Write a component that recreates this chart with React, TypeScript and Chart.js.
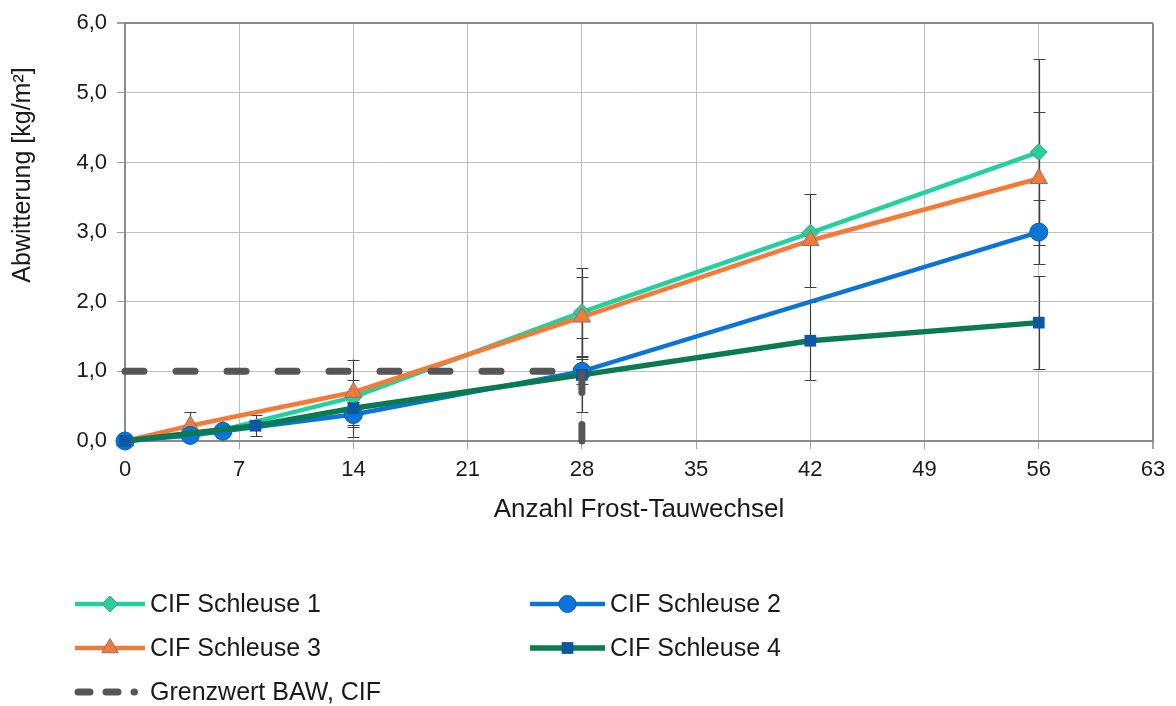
import React, { useEffect, useRef } from 'react';
import { Chart, registerables } from 'chart.js';

Chart.register(...registerables);

// ---- data ----
const yTickValues = [0, 1, 2, 3, 4, 5, 6];
const xTickValues = [0, 7, 14, 21, 28, 35, 42, 49, 56, 63];

const s1Label = 'CIF Schleuse 1';
const s1X = [0, 6, 14, 28, 42, 56];
const s1Y = [0, 0.16, 0.63, 1.85, 2.99, 4.15];
const s1Err = [0, 0, 0, 0.63, 0, 1.33];

const s2Label = 'CIF Schleuse 2';
const s2X = [0, 4, 6, 14, 28, 56];
const s2Y = [0, 0.08, 0.14, 0.38, 1.0, 3.0];
const s2Err = [0, 0, 0, 0.18, 0.18, 0.46];

const s3Label = 'CIF Schleuse 3';
const s3X = [0, 4, 14, 28, 42, 56];
const s3Y = [0, 0.22, 0.7, 1.78, 2.88, 3.77];
const s3Err = [0, 0.19, 0.47, 0.58, 0.67, 0.96];

const s4Label = 'CIF Schleuse 4';
const s4X = [0, 8, 14, 28, 42, 56];
const s4Y = [0, 0.22, 0.47, 0.95, 1.44, 1.7];
const s4Err = [0, 0.15, 0.41, 0.53, 0.56, 0.67];

const limitLabel = 'Grenzwert BAW, CIF';
const limitX = [0, 28, 28];
const limitY = [1.0, 1.0, 0];

const yTitle = 'Abwitterung [kg/m²]';
const xTitle = 'Anzahl Frost-Tauwechsel';

// ---- styles ----
const FONT = "'Liberation Sans', Arial, sans-serif";
const C_TEAL = '#22D19E';
const C_BLUE = '#0B74D8';
const C_ORANGE = '#F57A38';
const C_GREEN = '#0A7A50';
const C_SQUARE = '#0B57A4';
const C_DASH = '#565656';
const C_TEXT = '#1a1a1a';
const C_GRID = '#BFBFBF';
const C_FRAME = '#8A8A8A';

const toPts = (xs: number[], ys: number[]) => xs.map((x, i) => ({ x, y: ys[i] }));

function drawMarker(ctx: CanvasRenderingContext2D, style: string, x: number, y: number, r: number, fill: string, stroke: string, bw: number) {
  ctx.save();
  ctx.beginPath();
  if (style === 'circle') {
    ctx.arc(x, y, r, 0, Math.PI * 2);
  } else if (style === 'rectRot') {
    ctx.moveTo(x - r, y);
    ctx.lineTo(x, y - r);
    ctx.lineTo(x + r, y);
    ctx.lineTo(x, y + r);
    ctx.closePath();
  } else if (style === 'triangle') {
    const h = r * 1.5;
    const w = r * Math.sqrt(3);
    ctx.moveTo(x, y - h / 2 - r * 0.25);
    ctx.lineTo(x + w / 2, y + h / 2 - r * 0.25);
    ctx.lineTo(x - w / 2, y + h / 2 - r * 0.25);
    ctx.closePath();
  } else if (style === 'rect') {
    const s = Math.SQRT1_2 * r;
    ctx.rect(x - s, y - s, 2 * s, 2 * s);
  }
  ctx.fillStyle = fill;
  ctx.fill();
  if (bw > 0) {
    ctx.lineWidth = bw;
    ctx.strokeStyle = stroke;
    ctx.stroke();
  }
  ctx.restore();
}

const errorBarPlugin = {
  id: 'errorBars',
  beforeDatasetsDraw(chart: any) {
    const { ctx, scales, chartArea } = chart;
    const xs = scales.x;
    const ys = scales.y;
    ctx.save();
    ctx.beginPath();
    ctx.rect(chartArea.left, chartArea.top - 2, chartArea.right - chartArea.left, chartArea.bottom - chartArea.top + 4);
    ctx.clip();
    ctx.strokeStyle = '#404040';
    ctx.lineWidth = 1.2;
    chart.data.datasets.forEach((ds: any) => {
      const errs: number[] | undefined = ds.errorBars;
      if (!errs) return;
      ds.data.forEach((p: any, i: number) => {
        const e = errs[i];
        if (!e) return;
        const px = Math.round(xs.getPixelForValue(p.x)) + 0.5;
        const yt = ys.getPixelForValue(p.y + e);
        const yb = ys.getPixelForValue(Math.max(0, p.y - e));
        ctx.beginPath();
        ctx.moveTo(px, yt);
        ctx.lineTo(px, yb);
        ctx.moveTo(px - 6, Math.round(yt) + 0.5);
        ctx.lineTo(px + 6, Math.round(yt) + 0.5);
        if (p.y - e > 0) {
          ctx.moveTo(px - 6, Math.round(yb) + 0.5);
          ctx.lineTo(px + 6, Math.round(yb) + 0.5);
        }
        ctx.stroke();
      });
    });
    ctx.restore();
  },
};

const textPlugin = {
  id: 'titlesAndLegend',
  afterDraw(chart: any) {
    const { ctx, chartArea } = chart;
    // y axis title
    ctx.save();
    ctx.translate(23, 175);
    ctx.rotate(-Math.PI / 2);
    ctx.fillStyle = C_TEXT;
    ctx.font = `25px ${FONT}`;
    ctx.textAlign = 'center';
    ctx.textBaseline = 'middle';
    ctx.fillText(yTitle, 0, 0);
    ctx.restore();
    // x axis title
    ctx.save();
    ctx.fillStyle = C_TEXT;
    ctx.font = `26px ${FONT}`;
    ctx.textAlign = 'center';
    ctx.textBaseline = 'middle';
    ctx.fillText(xTitle, (chartArea.left + chartArea.right) / 2, 510);
    ctx.restore();

    const items = [
      { label: s1Label, col: 0, row: 0, color: C_TEAL, lw: 4.5, marker: 'rectRot', r: 8, fill: C_TEAL, stroke: '#808080', bw: 1 },
      { label: s2Label, col: 1, row: 0, color: C_BLUE, lw: 4.5, marker: 'circle', r: 8.5, fill: C_BLUE, stroke: '#0A5FB0', bw: 1 },
      { label: s3Label, col: 0, row: 1, color: C_ORANGE, lw: 4.5, marker: 'triangle', r: 9.5, fill: C_ORANGE, stroke: '#7A7A7A', bw: 1 },
      { label: s4Label, col: 1, row: 1, color: C_GREEN, lw: 5.5, marker: 'rect', r: 8.3, fill: C_SQUARE, stroke: C_SQUARE, bw: 0 },
      { label: limitLabel, col: 0, row: 2, color: C_DASH, lw: 7, marker: '', r: 0, fill: '', stroke: '', bw: 0, dash: true },
    ];
    const colX = [75, 530];
    const colW = [70, 75];
    const rowY = [604, 648, 692];
    ctx.save();
    items.forEach((it: any) => {
      const x0 = colX[it.col];
      const x1 = x0 + colW[it.col];
      const y = rowY[it.row];
      ctx.save();
      ctx.beginPath();
      ctx.strokeStyle = it.color;
      ctx.lineWidth = it.lw;
      if (it.dash) {
        ctx.lineCap = 'round';
        ctx.setLineDash([12, 16]);
        ctx.moveTo(x0 + 3, y);
        ctx.lineTo(x0 + 59.5, y);
      } else {
        ctx.lineCap = 'butt';
        ctx.moveTo(x0, y);
        ctx.lineTo(x1, y);
      }
      ctx.stroke();
      ctx.restore();
      if (it.marker) {
        drawMarker(ctx, it.marker, (x0 + x1) / 2, y, it.r, it.fill, it.stroke, it.bw);
      }
      ctx.fillStyle = C_TEXT;
      ctx.font = `25px ${FONT}`;
      ctx.textBaseline = 'middle';
      ctx.textAlign = 'left';
      ctx.fillText(it.label, x1 + 5, y + 1);
    });
    ctx.restore();
  },
};

export default function App() {
  const canvasRef = useRef<HTMLCanvasElement | null>(null);

  useEffect(() => {
    if (!canvasRef.current) return;
    const chart = new Chart(canvasRef.current, {
      type: 'line',
      data: {
        datasets: [
          {
            label: limitLabel,
            data: toPts(limitX, limitY),
            borderColor: C_DASH,
            borderWidth: 7,
            borderDash: [19, 32],
            borderCapStyle: 'round',
            pointRadius: 0,
            fill: false,
            tension: 0,
            order: 0,
            clip: false,
          } as any,
          {
            label: s4Label,
            data: toPts(s4X, s4Y),
            borderColor: C_GREEN,
            borderWidth: 5.5,
            pointStyle: 'rect',
            pointRadius: 8.3,
            pointBackgroundColor: C_SQUARE,
            pointBorderColor: C_SQUARE,
            pointBorderWidth: 0,
            errorBars: s4Err,
            order: 1,
            clip: false,
          } as any,
          {
            label: s2Label,
            data: toPts(s2X, s2Y),
            borderColor: C_BLUE,
            borderWidth: 4.5,
            pointStyle: 'circle',
            pointRadius: 9,
            pointBackgroundColor: C_BLUE,
            pointBorderColor: '#0A5FB0',
            pointBorderWidth: 1,
            errorBars: s2Err,
            order: 2,
            clip: false,
          } as any,
          {
            label: s3Label,
            data: toPts(s3X, s3Y),
            borderColor: C_ORANGE,
            borderWidth: 4.5,
            pointStyle: 'triangle',
            pointRadius: 10,
            pointBackgroundColor: C_ORANGE,
            pointBorderColor: '#7A7A7A',
            pointBorderWidth: 1,
            errorBars: s3Err,
            order: 3,
            clip: false,
          } as any,
          {
            label: s1Label,
            data: toPts(s1X, s1Y),
            borderColor: C_TEAL,
            borderWidth: 4.5,
            pointStyle: 'rectRot',
            pointRadius: 8.5,
            pointBackgroundColor: C_TEAL,
            pointBorderColor: '#808080',
            pointBorderWidth: 1,
            errorBars: s1Err,
            order: 4,
            clip: false,
          } as any,
        ],
      },
      options: {
        animation: false,
        responsive: false,
        maintainAspectRatio: false,
        events: [],
        layout: { padding: { left: 0, right: 23, top: 16, bottom: 0 } },
        plugins: {
          legend: { display: false },
          tooltip: { enabled: false },
        },
        scales: {
          x: {
            type: 'linear',
            min: 0,
            max: 63,
            afterBuildTicks: (s: any) => {
              s.ticks = xTickValues.map((v) => ({ value: v }));
            },
            afterFit: (s: any) => {
              s.height = 265;
            },
            ticks: {
              color: C_TEXT,
              font: { family: FONT, size: 22 },
              padding: 8,
              maxRotation: 0,
              autoSkip: false,
            },
            grid: {
              color: (c: any) => (c.tick && c.tick.value === 63 ? C_FRAME : C_GRID),
              lineWidth: (c: any) => (c.tick && c.tick.value === 63 ? 2 : 1),
              tickLength: 8,
              tickColor: '#A0A0A0',
            },
            border: { color: C_FRAME, width: 2 },
          },
          y: {
            type: 'linear',
            min: 0,
            max: 6,
            afterBuildTicks: (s: any) => {
              s.ticks = yTickValues.map((v) => ({ value: v }));
            },
            afterFit: (s: any) => {
              s.width = 125;
            },
            ticks: {
              color: C_TEXT,
              font: { family: FONT, size: 22 },
              padding: 10,
              callback: (v: any) => Number(v).toFixed(1).replace('.', ','),
            },
            grid: {
              color: (c: any) => (c.tick && c.tick.value === 6 ? C_FRAME : C_GRID),
              lineWidth: (c: any) => (c.tick && c.tick.value === 6 ? 2 : 1),
              tickLength: 8,
              tickColor: '#A0A0A0',
            },
            border: { color: C_FRAME, width: 2 },
          },
        },
      } as any,
      plugins: [errorBarPlugin, textPlugin],
    });
    return () => chart.destroy();
  }, []);

  return (
    <div style={{ position: 'fixed', left: 0, top: 0, width: 1176, height: 706, background: '#fff' }}>
      <canvas ref={canvasRef} width={1176} height={706} style={{ width: 1176, height: 706, display: 'block' }} />
    </div>
  );
}
